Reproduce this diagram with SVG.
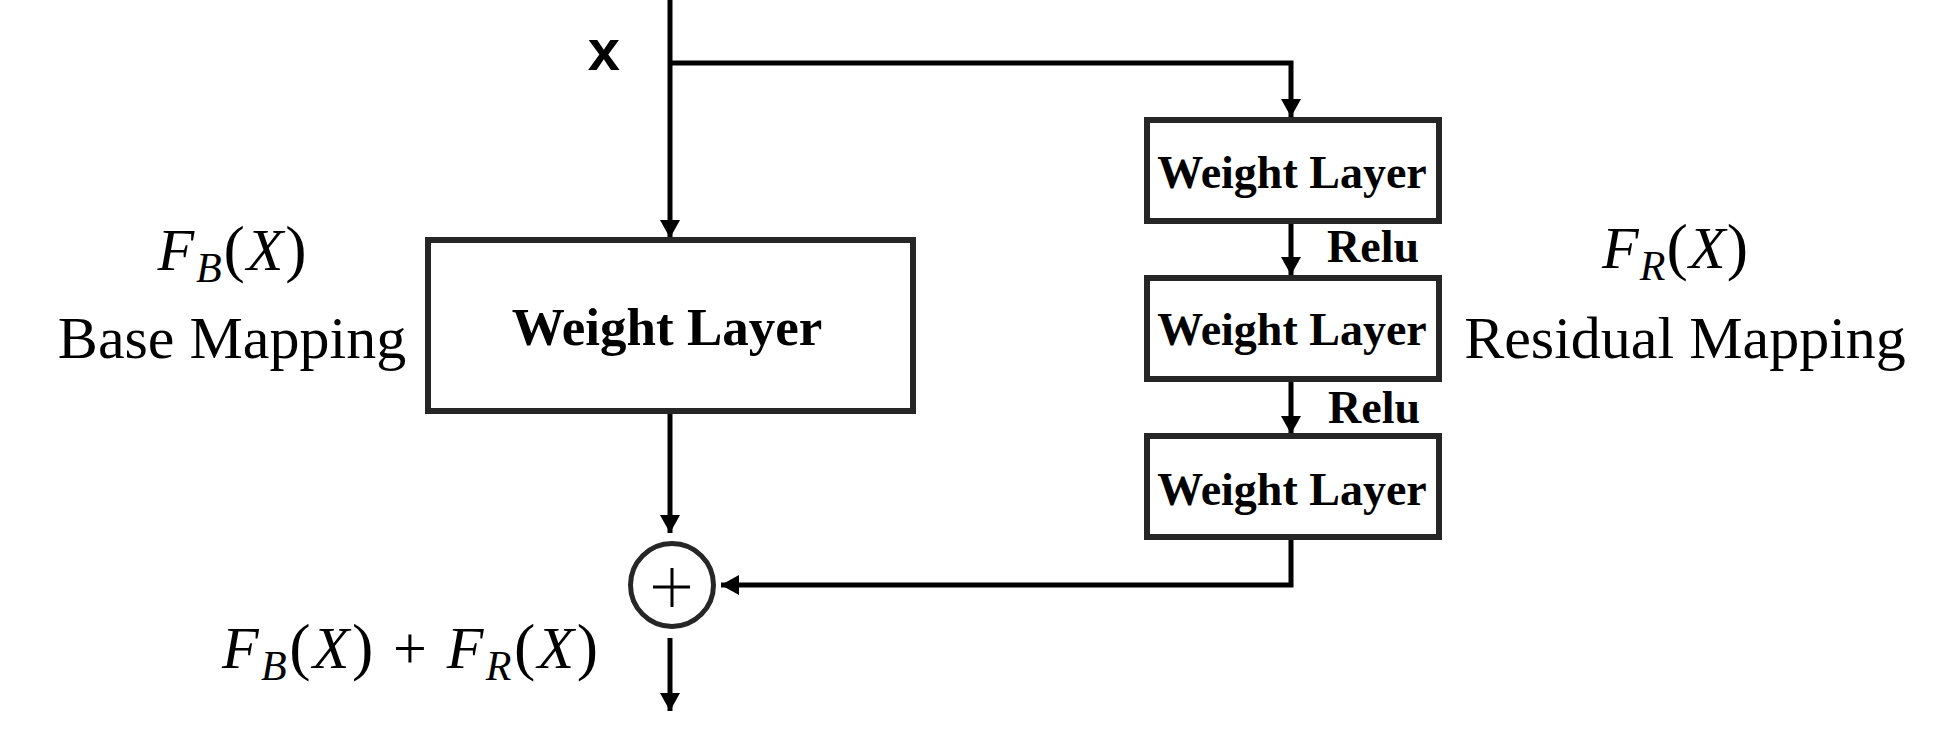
<svg xmlns="http://www.w3.org/2000/svg" width="1950" height="746" viewBox="0 0 1950 746">
  <defs>
    <style>
      .box { fill: #ffffff; stroke: #262626; stroke-width: 6; }
      .wl { font-family: "Liberation Serif", "Times New Roman", serif; font-weight: bold; fill: #000; text-anchor: middle; }
      .relu { font-family: "Liberation Serif", "Times New Roman", serif; font-weight: bold; font-size: 46px; fill: #000; }
      .lbl { font-family: "Liberation Serif", "Times New Roman", serif; font-size: 60px; fill: #000; text-anchor: middle; }
      .it { font-style: italic; }
      .sub { font-style: italic; font-size: 42px; }
      .par { font-size: 64px; }
      .conn { fill: none; stroke: #000; stroke-width: 5; }
    </style>
    <marker id="arrow" markerUnits="userSpaceOnUse" markerWidth="20" markerHeight="20" refX="18" refY="10" orient="auto">
      <path d="M0,0 L18,10 L0,20 z" fill="#000"/>
    </marker>
  </defs>
  <rect width="1950" height="746" fill="#ffffff"/>

  <g id="connectors">
    <path class="conn" d="M670,0 V238" marker-end="url(#arrow)"/>
    <path class="conn" d="M670,63 H1291 V117" marker-end="url(#arrow)"/>
    <path class="conn" d="M1291,223 V275" marker-end="url(#arrow)"/>
    <path class="conn" d="M1291,381 V434" marker-end="url(#arrow)"/>
    <path class="conn" d="M670,413 V533" marker-end="url(#arrow)"/>
    <path class="conn" d="M1291,539 V585 H721" marker-end="url(#arrow)"/>
    <path class="conn" d="M670,638 V711" marker-end="url(#arrow)"/>
  </g>

  <g id="input-label">
    <text x="604" y="70" font-family="Liberation Sans, Arial, sans-serif" font-weight="bold" font-size="58" text-anchor="middle" fill="#000">x</text>
  </g>

  <g id="base-weight-layer">
    <rect class="box" x="428" y="240" width="485" height="171"/>
    <text class="wl" x="667" y="345" font-size="53">Weight Layer</text>
  </g>

  <g id="base-mapping-label">
    <text class="lbl" x="232" y="270" textLength="149" lengthAdjust="spacing"><tspan class="it">F</tspan><tspan class="sub" dy="12">B</tspan><tspan class="par" dy="-12">(</tspan><tspan class="it">X</tspan><tspan class="par">)</tspan></text>
    <text class="lbl" x="232" y="358">Base Mapping</text>
  </g>

  <g id="residual-weight-layer-1">
    <rect class="box" x="1147" y="120" width="292" height="101"/>
    <text class="wl" x="1292" y="188" font-size="46">Weight Layer</text>
  </g>
  <g id="relu-1">
    <text class="relu" x="1327" y="262">Relu</text>
  </g>

  <g id="residual-weight-layer-2">
    <rect class="box" x="1147" y="278" width="292" height="101"/>
    <text class="wl" x="1292" y="345" font-size="46">Weight Layer</text>
  </g>
  <g id="relu-2">
    <text class="relu" x="1328" y="423">Relu</text>
  </g>

  <g id="residual-weight-layer-3">
    <rect class="box" x="1147" y="436" width="292" height="101"/>
    <text class="wl" x="1292" y="505" font-size="46">Weight Layer</text>
  </g>

  <g id="residual-mapping-label">
    <text class="lbl" x="1675" y="268" textLength="146" lengthAdjust="spacing"><tspan class="it">F</tspan><tspan class="sub" dy="12">R</tspan><tspan class="par" dy="-12">(</tspan><tspan class="it">X</tspan><tspan class="par">)</tspan></text>
    <text class="lbl" x="1685" y="358">Residual Mapping</text>
  </g>

  <g id="sum-node">
    <circle cx="672" cy="585" r="41.5" fill="#ffffff" stroke="#262626" stroke-width="5"/>
    <path d="M653,587 H690 M672,568 V607" stroke="#000" stroke-width="3" fill="none"/>
  </g>

  <g id="output-label">
    <text class="lbl" x="410" y="668" textLength="376" lengthAdjust="spacing"><tspan class="it">F</tspan><tspan class="sub" dy="12">B</tspan><tspan class="par" dy="-12">(</tspan><tspan class="it">X</tspan><tspan class="par">)</tspan> + <tspan class="it">F</tspan><tspan class="sub" dy="12">R</tspan><tspan class="par" dy="-12">(</tspan><tspan class="it">X</tspan><tspan class="par">)</tspan></text>
  </g>
</svg>
